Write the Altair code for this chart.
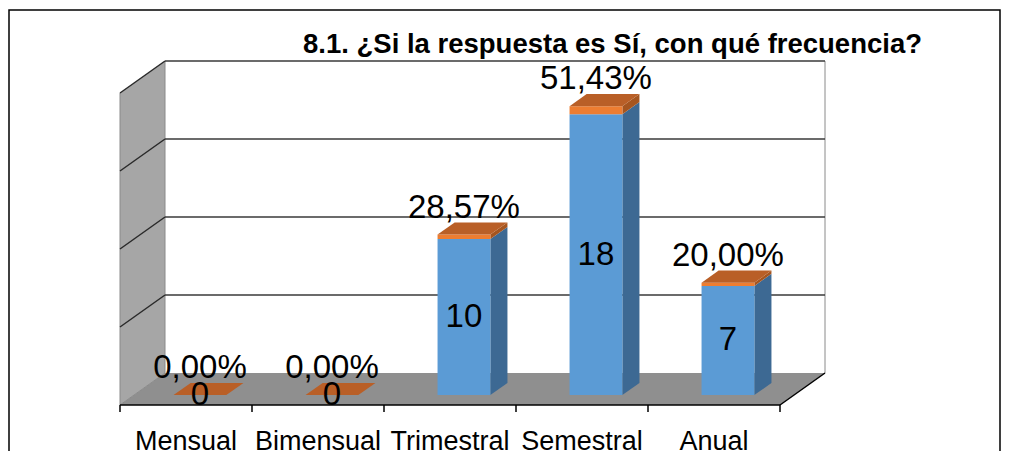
import altair as alt
import pandas as pd

# ---- data ----
categories = ["Mensual", "Bimensual", "Trimestral", "Semestral", "Anual"]
counts = [0, 0, 10, 18, 7]
percents = [0.00, 0.00, 28.57, 51.43, 20.00]
title_text = "8.1. ¿Si la respuesta es Sí, con qué frecuencia?"
grid_values = [5, 10, 15, 20]

# ---- layout constants (pixels) ----
W, H = 660, 312
XMAX, YMAX = 5, 20
PXU = W / XMAX          # px per x unit
PYU = H / YMAX          # px per y unit
DEPTH_X, DEPTH_Y = 45, 32   # 3-D depth of the plot box in px
DXD, DYD = DEPTH_X / PXU, DEPTH_Y / PYU
F0, F1 = 0.31, 0.69          # bar depth (front, back) as fraction
HALF = 0.2                   # half bar width (x units)

def px(x, f):
    return x + f * DXD

def py(y, f):
    return y + f * DYD

xs = alt.Scale(domain=[0, XMAX], nice=False, zero=False)
ys = alt.Scale(domain=[0, YMAX], nice=False, zero=False)

def X(f="x"):
    return alt.X(f"{f}:Q", scale=xs, axis=None)

def Y(f="y"):
    return alt.Y(f"{f}:Q", scale=ys, axis=None, stack=None)

centers = [i + 0.5 for i in range(len(categories))]
fracs = [p / 100 for p in percents]

# ---- walls ----
side_wall = pd.DataFrame([
    {"x": px(0, f), "y": py(0, f), "y2": py(YMAX, f)} for f in (0, 1)
])
floor = pd.DataFrame([
    {"y": py(0, f), "x": px(0, f), "x2": px(XMAX, f)} for f in (0, 1)
])
back_grid = pd.DataFrame([
    {"x": px(0, 1), "x2": px(XMAX, 1), "y": py(v, 1)} for v in grid_values
])
side_diag = pd.DataFrame([
    {"x": px(0, 0), "x2": px(0, 1), "y": py(v, 0), "y2": py(v, 1)} for v in grid_values
])
edges_dark = pd.DataFrame([
    {"x": 0, "x2": XMAX, "y": 0, "y2": 0},
    {"x": px(XMAX, 0), "x2": px(XMAX, 1), "y": 0, "y2": py(0, 1)},
])
edges_light = pd.DataFrame([
    {"x": 0, "x2": px(0, 1), "y": 0, "y2": py(0, 1)},
    {"x": px(XMAX, 1), "x2": px(XMAX, 1), "y": py(0, 1), "y2": py(YMAX, 1)},
    {"x": px(0, 1), "x2": px(0, 1), "y": py(0, 1), "y2": py(YMAX, 1)},
    {"x": 0, "x2": 0, "y": 0, "y2": YMAX},
])
ticks = pd.DataFrame([{"x": i, "y": 0, "y2": -7 / PYU} for i in range(len(categories) + 1)])

# ---- bars ----
front_count, front_pct, side_count, side_pct, top_rows = [], [], [], [], []
for cat, c, n, fr in zip(categories, centers, counts, fracs):
    front_count.append({"cat": cat, "x": px(c - HALF, F0), "x2": px(c + HALF, F0),
                        "y": py(0, F0), "y2": py(n, F0)})
    front_pct.append({"cat": cat, "x": px(c - HALF, F0), "x2": px(c + HALF, F0),
                      "y": py(n, F0), "y2": py(n + fr, F0)})
    for f in (F0, F1):
        side_count.append({"cat": cat, "x": px(c + HALF, f), "y": py(0, f), "y2": py(n, f)})
        side_pct.append({"cat": cat, "x": px(c + HALF, f), "y": py(n, f), "y2": py(n + fr, f)})
        top_rows.append({"cat": cat, "y": py(n + fr, f), "x": px(c - HALF, f), "x2": px(c + HALF, f)})

labels = pd.DataFrame({
    "cat": categories,
    "xc": [px(c, F0) for c in centers],
    "x": centers,
    "ymid": [py(n / 2, F0) for n in counts],
    "ytop": [py(n + fr, F0) for n, fr in zip(counts, fracs)],
    "count": [str(n) for n in counts],
    "pct": [f"{p:.2f}%".replace(".", ",") for p in percents],
})

FONT = "Liberation Sans"

layers = []
# frame
layers.append(alt.Chart(pd.DataFrame({"a": [1]})).mark_rect(
    fill=None, stroke="#000000", strokeWidth=1.5).encode(
    x=alt.value(-111), x2=alt.value(880), y=alt.value(-83), y2=alt.value(420)))
# side wall & floor
layers.append(alt.Chart(side_wall).mark_area(orient="vertical", color="#a6a6a6").encode(
    x=X(), y=Y(), y2="y2:Q"))
layers.append(alt.Chart(floor).mark_area(orient="horizontal", color="#8f8f8f").encode(
    y=Y(), x=X(), x2="x2:Q"))
layers.append(alt.Chart(edges_light).mark_rule(color="#8a8a8a", strokeWidth=1).encode(
    x=X(), x2="x2:Q", y=Y(), y2="y2:Q"))
layers.append(alt.Chart(back_grid).mark_rule(color="#3a3a3a", strokeWidth=1.5).encode(
    x=X(), x2="x2:Q", y=Y()))
layers.append(alt.Chart(side_diag).mark_rule(color="#2a2a2a", strokeWidth=1.5).encode(
    x=X(), x2="x2:Q", y=Y(), y2="y2:Q"))
layers.append(alt.Chart(edges_dark).mark_rule(color="#000000", strokeWidth=1.5).encode(
    x=X(), x2="x2:Q", y=Y(), y2="y2:Q"))
layers.append(alt.Chart(ticks).mark_rule(color="#000000", strokeWidth=1.5).encode(
    x=X(), y=Y(), y2="y2:Q"))
# bars
layers.append(alt.Chart(pd.DataFrame(side_count)).mark_area(orient="vertical", color="#3d6993").encode(
    x=X(), y=Y(), y2="y2:Q", detail="cat:N"))
layers.append(alt.Chart(pd.DataFrame(side_pct)).mark_area(orient="vertical", color="#a5551f").encode(
    x=X(), y=Y(), y2="y2:Q", detail="cat:N"))
layers.append(alt.Chart(pd.DataFrame(front_count)).mark_rect(color="#5b9bd5").encode(
    x=X(), x2="x2:Q", y=Y(), y2="y2:Q"))
layers.append(alt.Chart(pd.DataFrame(front_pct)).mark_rect(color="#ed7d31").encode(
    x=X(), x2="x2:Q", y=Y(), y2="y2:Q"))
layers.append(alt.Chart(pd.DataFrame(top_rows)).mark_area(orient="horizontal", color="#b95f27").encode(
    y=Y(), x=X(), x2="x2:Q", detail="cat:N"))
# labels
layers.append(alt.Chart(labels).mark_text(font=FONT, fontSize=33, color="#000000",
                                          baseline="middle").encode(
    x=X("xc"), y=Y("ymid"), text="count:N"))
layers.append(alt.Chart(labels).mark_text(font=FONT, fontSize=33, color="#000000",
                                          baseline="middle", dy=-27).encode(
    x=X("xc"), y=Y("ytop"), text="pct:N"))
layers.append(alt.Chart(labels).mark_text(font=FONT, fontSize=27, color="#000000",
                                          baseline="alphabetic").encode(
    x=X("x"), y=alt.value(H + 45), text="cat:N"))
# title
layers.append(alt.Chart(pd.DataFrame({"t": [title_text]})).mark_text(
    font=FONT, fontSize=27.5, fontWeight="bold", color="#000000", align="left",
    baseline="alphabetic").encode(
    x=alt.value(183), y=alt.value(-40), text="t:N"))

chart = alt.layer(*layers).properties(
    width=W, height=H,
    padding={"left": 112, "top": 85, "right": 223, "bottom": 58},
    autosize=alt.AutoSizeParams(type="none"),
    background="#ffffff",
).configure_view(stroke=None)

chart.save("out.html", embed_options={"renderer": "svg", "actions": False})
